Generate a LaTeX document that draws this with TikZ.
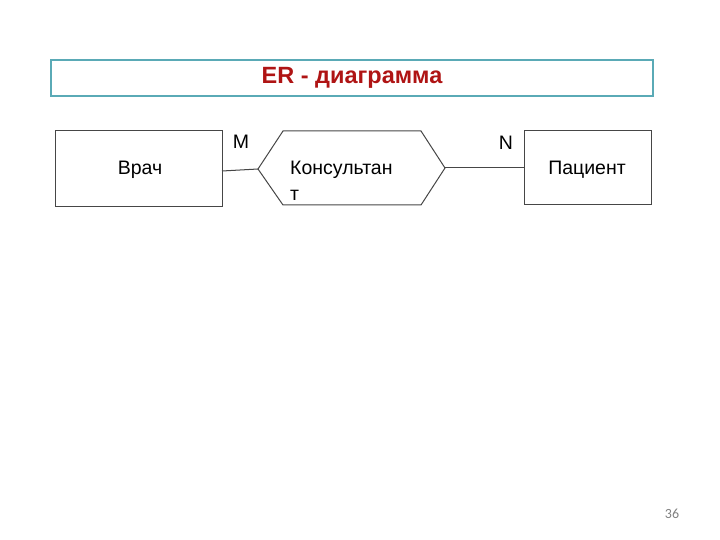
\documentclass[tikz,border=0pt]{standalone}
\usepackage{fontspec}
\setmainfont{Liberation Sans}
\newfontfamily\numfont{Carlito}
\definecolor{titleframe}{RGB}{90,170,182}
\definecolor{titletext}{RGB}{175,20,20}
\definecolor{boxline}{RGB}{70,70,70}
\begin{document}
\begin{tikzpicture}[x=1pt,y=-1pt,
  entity/.style={draw=boxline,line width=1pt},
  conn/.style={draw=boxline,line width=1pt},
  lbl/.style={font=\fontsize{19.5}{22}\selectfont,text=black,inner sep=0pt}]
\useasboundingbox (0,0) rectangle (720,540);
% title
\draw[titleframe,line width=1.8pt] (51,60) rectangle (653,96);
\node[inner sep=0pt,text=titletext,font=\fontsize{23.5}{27}\selectfont\bfseries] (title) at (352,78) {ER - диаграмма};
% entities
\draw[entity] (55,131) rectangle (222,207);
\node[lbl] (vrach) at (140,170) {Врач};
\draw[entity] (524,131) rectangle (651,205);
\node[lbl] (pac) at (587,170) {Пациент};
% relationship
\draw[entity] (258,169) -- (283,131) -- (421,131) -- (445,168) -- (421,205) -- (283,205) -- cycle;
\coordinate (hl) at (258,169);
\coordinate (hr) at (445,168);
\coordinate (vr) at (222,171);
\coordinate (pl) at (524,168);
\node[lbl,anchor=west] (kons1) at (290,170) {Консультан};
\node[lbl,anchor=west] (kons2) at (290,195) {т};
% connectors
\draw[conn] (vr) -- (hl);
\draw[conn] (hr) -- (pl);
\node[lbl] (m) at (241,142) {M};
\node[lbl] (n) at (506,143) {N};
% page number
\node[inner sep=0pt,text=gray,font=\numfont\fontsize{14}{16}\selectfont] (num) at (672,514) {36};
\end{tikzpicture}
\end{document}
